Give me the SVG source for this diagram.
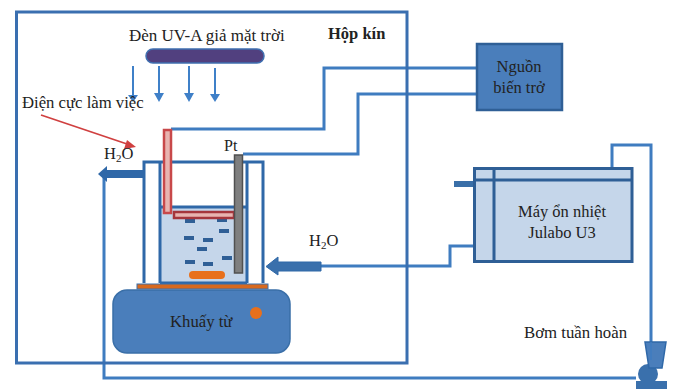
<svg xmlns="http://www.w3.org/2000/svg" width="675" height="389" viewBox="0 0 675 389">
<style>
text{font-family:"Liberation Serif",serif;font-size:16.500px;fill:#222}
.w{fill:none;stroke:#3f7cc0;stroke-width:3}
.d{fill:#2f5f96}
.ray{stroke:#3f80c8;stroke-width:2;fill:none}
.rh{fill:#3f80c8}
</style>
<rect width="675" height="389" fill="#fff"/>
<g id="connectors">
<path class="w" d="M477 68H324V129H171"/>
<path class="w" d="M477 94H358V154H243"/>
<path class="w" d="M321 266H450V246H474"/>
<path class="w" d="M612 168V145H651V342"/>
<path class="w" d="M104 174V378H636"/>
<path d="M41 115L130 145" fill="none" stroke="#d04040" stroke-width="1.800"/>
<path d="M136 147L124 149L127 140Z" fill="#d04040"/>
<path class="ray" d="M133 66V97M159 66V95M189 66V95M215 68V95"/>
<path class="rh" d="M128 95H138L133 102ZM154 93H164L159 102ZM184 93H194L189 102ZM210 94H220L215 102Z"/>
</g>
<g id="box"><rect x="16.500" y="12" width="390.500" height="351" fill="none" stroke="#3a6fb0" stroke-width="3"/><text x="328" y="39" font-weight="bold">Hộp kín</text></g>
<g id="lamp"><rect x="146" y="49" width="118" height="14" rx="7" fill="#51407f" stroke="#3f6fb0" stroke-width="1.500"/><text x="129" y="41" style="font-size:17px">Đèn UV-A giả mặt trời</text></g>
<g id="label-electrode"><text x="22" y="108" style="font-size:16.700px">Điện cực làm việc</text></g>
<g id="cell">
<rect x="160" y="207" width="87" height="75" fill="#c5d6ea"/>
<path d="M144 283V162H263V283M160 283V162M247 283V162" fill="none" stroke="#2f68a8" stroke-width="3"/>
<path d="M160 207H247M160 283H247" stroke="#2f68a8" stroke-width="3" fill="none"/>
<g class="d"><rect x="185" y="219" width="10" height="4"/><rect x="217" y="218" width="10" height="4"/><rect x="219" y="229" width="10" height="4"/><rect x="184" y="236" width="10" height="4"/><rect x="203" y="238" width="10" height="4"/><rect x="197" y="247" width="10" height="4"/><rect x="185" y="260" width="10" height="4"/><rect x="203" y="262" width="10" height="4"/><rect x="222" y="256" width="10" height="4"/></g>
<rect x="189" y="271" width="36" height="8" rx="4" fill="#e8701c"/>
<rect x="164" y="130" width="7" height="83" fill="#e8b4b0" stroke="#c8484a" stroke-width="2.500"/>
<rect x="174" y="212" width="60" height="6" fill="#e8b4b0" stroke="#a5363c" stroke-width="2.500"/>
<rect x="234.500" y="155" width="8" height="118" fill="#7f7f7f" stroke="#505050" stroke-width="1.500"/>
<text x="224" y="151" style="font-size:16px">Pt</text>
</g>
<g id="arrow-out"><path d="M144 170H107V166L98 174L107 182V178H144Z" fill="#2f68a8"/><text x="104" y="159" style="font-size:16.500px">H<tspan dy="3" style="font-size:11px">2</tspan><tspan dy="-3">O</tspan></text></g>
<g id="arrow-in"><path d="M321 262H278V257L266 266.500L278 275V271H321Z" fill="#3a70ac" stroke="#2f68a8"/><text x="309" y="246" style="font-size:16.500px">H<tspan dy="3" style="font-size:11px">2</tspan><tspan dy="-3">O</tspan></text></g>
<g id="stirrer">
<rect x="137" y="284" width="131" height="5" fill="#d8691e" stroke="#3a70ac"/>
<rect x="113" y="290" width="177" height="63" rx="14" fill="#4a7ebb" stroke="#3a6fa8" stroke-width="1.500"/>
<circle cx="256" cy="313" r="6" fill="#e8701c"/>
<text x="170" y="327" style="font-size:16.700px">Khuấy từ</text>
</g>
<g id="source"><rect x="477" y="44" width="85" height="66" fill="#4a7ebb" stroke="#2f5f96" stroke-width="2.500"/><text x="519" y="72" text-anchor="middle">Nguồn</text><text x="519" y="93" text-anchor="middle">biến trở</text></g>
<g id="thermostat">
<rect x="454" y="181" width="20" height="6" fill="#3a6fa8"/>
<rect x="474.500" y="168.500" width="157.500" height="93" fill="#c5d6ea" stroke="#2f5f96" stroke-width="3"/>
<path d="M474 180H632M494 168V262" stroke="#2f5f96" stroke-width="3" fill="none"/>
<text x="562" y="217" text-anchor="middle">Máy ổn nhiệt</text>
<text x="562" y="238" text-anchor="middle">Julabo U3</text>
</g>
<g id="pump">
<circle cx="648" cy="374" r="10" fill="#3a70ac"/>
<path d="M645 342H666L662 368H649Z" fill="#4a7ebb" stroke="#2f68a8" stroke-width="1.500"/>
<path d="M651 342V360" stroke="#3f7cc0" stroke-width="1.500"/>
<rect x="636" y="381" width="31" height="8" fill="#3a70ac"/>
<text x="524" y="338" style="font-size:16.800px">Bơm tuần hoàn</text>
</g>
</svg>
